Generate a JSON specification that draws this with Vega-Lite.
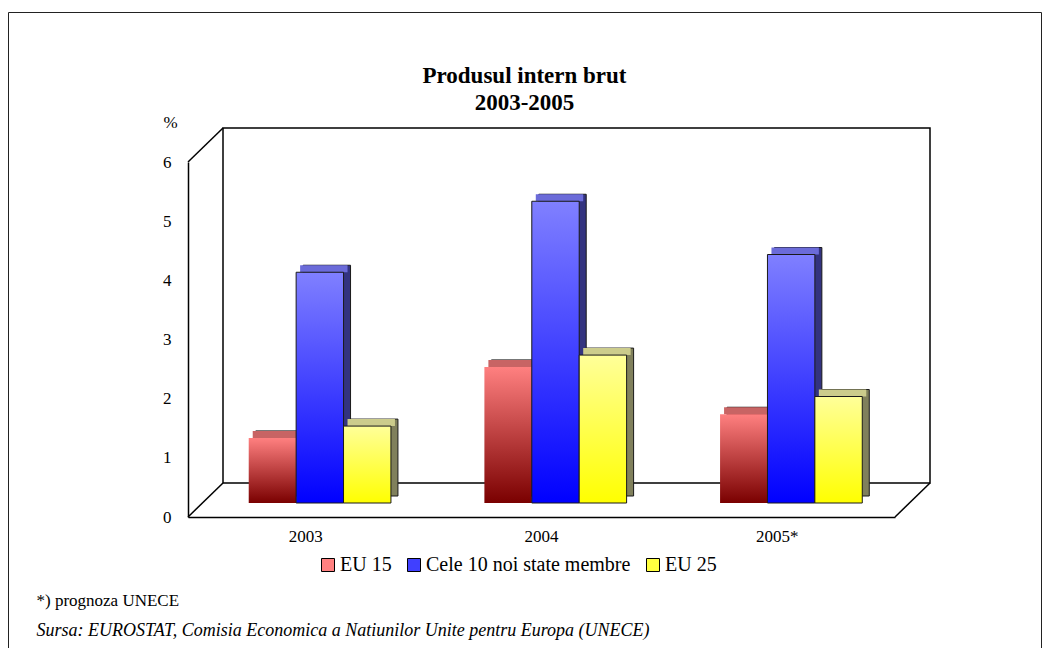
{
  "$schema": "https://vega.github.io/schema/vega-lite/v6.json",
  "width": 1033,
  "height": 648,
  "autosize": {"type": "none"},
  "padding": {"left": 8, "top": 12, "right": 9, "bottom": 0},
  "background": "white",
  "config": {
    "font": "Liberation Serif",
    "view": {"stroke": "#222222", "strokeWidth": 1},
    "axis": {"labelColor": "black", "titleColor": "black", "labelFont": "Liberation Serif", "titleFont": "Liberation Serif"}
  },
  "title": {
    "text": ["Produsul intern brut", "2003-2005"],
    "font": "Liberation Serif",
    "fontSize": 23,
    "fontWeight": "bold",
    "color": "black",
    "anchor": "middle",
    "lineHeight": 27,
    "offset": -103
  },
  "data": {
    "values": [
      {"year": "2003", "series": "EU 15", "value": 1.1},
      {"year": "2003", "series": "Cele 10 noi state membre", "value": 3.9},
      {"year": "2003", "series": "EU 25", "value": 1.3},
      {"year": "2004", "series": "EU 15", "value": 2.3},
      {"year": "2004", "series": "Cele 10 noi state membre", "value": 5.1},
      {"year": "2004", "series": "EU 25", "value": 2.5},
      {"year": "2005*", "series": "EU 15", "value": 1.5},
      {"year": "2005*", "series": "Cele 10 noi state membre", "value": 4.2},
      {"year": "2005*", "series": "EU 25", "value": 1.8}
    ]
  },
  "resolve": {"scale": {"x": "independent", "y": "independent"}, "axis": {"x": "independent", "y": "independent"}},
  "layer": [
    {
      "data": {"values": [{}]},
      "mark": {"type": "rect", "filled": false, "color": "black", "strokeWidth": 1.5, "xOffset": 35, "x2Offset": 35, "yOffset": -34, "y2Offset": -34},
      "encoding": {
        "x": {"datum": 0, "type": "quantitative", "scale": {"domain": [0, 1], "range": [180, 887], "nice": false, "zero": false},
          "axis": {"orient": "bottom", "offset": 0, "labels": false, "ticks": false, "domain": false, "grid": false,
            "title": "*) prognoza UNECE", "titleX": 28, "titleY": -60, "titleAlign": "left", "titleAnchor": "start", "titleBaseline": "middle",
            "titleFontSize": 17, "titleFontWeight": "normal"}},
        "x2": {"datum": 1},
        "y": {"datum": 0, "type": "quantitative", "scale": {"domain": [0, 6], "range": [505, 150], "nice": false, "zero": true},
          "axis": {"orient": "left", "offset": -180, "zindex": 1, "domain": true, "domainColor": "black", "domainWidth": 1.5, "ticks": false, "grid": false,
            "values": [0, 1, 2, 3, 4, 5, 6], "format": "d", "labelFontSize": 17, "labelPadding": 17,
            "title": "%", "titleAngle": 0, "titleX": -18, "titleY": 110, "titleAlign": "center", "titleBaseline": "middle", "titleFontSize": 17, "titleFontWeight": "normal"}},
        "y2": {"datum": 6}
      }
    },
    {
      "data": {"values": [{}]},
      "mark": {"type": "rule", "color": "black", "strokeWidth": 1.5, "x2Offset": 35, "y2Offset": -34},
      "encoding": {
        "x": {"datum": 0, "type": "quantitative", "scale": {"domain": [0, 1], "range": [180, 887], "nice": false, "zero": false},
          "axis": {"orient": "bottom", "offset": 0, "labels": false, "ticks": false, "domain": false, "grid": false,
            "title": "Sursa: EUROSTAT, Comisia Economica a Natiunilor Unite pentru Europa (UNECE)", "titleX": 28, "titleY": -30, "titleAlign": "left", "titleAnchor": "start", "titleBaseline": "middle",
            "titleFontSize": 18, "titleFontWeight": "normal", "titleFontStyle": "italic"}},
        "x2": {"datum": 0},
        "y": {"datum": 6, "type": "quantitative", "scale": {"domain": [0, 6], "range": [505, 150], "nice": false, "zero": true}, "axis": null},
        "y2": {"datum": 6}
      }
    },
    {
      "data": {"values": [{}]},
      "mark": {"type": "rule", "color": "black", "strokeWidth": 1.5, "x2Offset": 35, "y2Offset": -34},
      "encoding": {
        "x": {"datum": 0, "type": "quantitative", "scale": {"domain": [0, 1], "range": [180, 887], "nice": false, "zero": false}, "axis": null},
        "x2": {"datum": 0},
        "y": {"datum": 0, "type": "quantitative", "scale": {"domain": [0, 6], "range": [505, 150], "nice": false, "zero": true}, "axis": null},
        "y2": {"datum": 0}
      }
    },
    {
      "data": {"values": [{}]},
      "mark": {"type": "rule", "color": "black", "strokeWidth": 1.5, "x2Offset": 35, "y2Offset": -34},
      "encoding": {
        "x": {"datum": 1, "type": "quantitative", "scale": {"domain": [0, 1], "range": [180, 887], "nice": false, "zero": false}, "axis": null},
        "x2": {"datum": 1},
        "y": {"datum": 0, "type": "quantitative", "scale": {"domain": [0, 6], "range": [505, 150], "nice": false, "zero": true}, "axis": null},
        "y2": {"datum": 0}
      }
    },
    {
      "mark": {"type": "bar", "opacity": 0, "stroke": "black", "strokeWidth": 1},
      "encoding": {
        "x": {"field": "year", "type": "nominal", "sort": null, "scale": {"type": "band", "domain": ["2003", "2004", "2005*"], "range": [180, 887], "paddingInner": 0, "paddingOuter": 0}, "axis": null},
        "y": {"field": "value", "type": "quantitative", "stack": null, "scale": {"domain": [0, 6], "range": [505, 150], "nice": false, "zero": true}, "axis": null},
        "color": {"field": "series", "type": "nominal",
          "scale": {"domain": ["EU 15", "Cele 10 noi state membre", "EU 25"], "range": ["#ff8080", "#4040ff", "#ffff40"]},
          "legend": {"orient": "none", "legendX": 310, "legendY": 543, "direction": "horizontal", "title": null,
            "symbolType": "square", "symbolSize": 169, "symbolStrokeColor": "black", "symbolStrokeWidth": 1, "symbolOpacity": 1,
            "labelFontSize": 20, "labelFont": "Liberation Serif", "labelColor": "black", "labelLimit": 0, "columnPadding": 12, "labelOffset": 2}}
      }
    },
    {
      "transform": [{"filter": "datum.series === 'EU 15'"}],
      "mark": {"type": "bar", "width": {"band": 0.2012}, "xOffset": -26.4, "yOffset": -21, "y2Offset": -21, "color": "#802020", "stroke": "#1a1a1a", "strokeWidth": 1},
      "encoding": {
        "x": {"field": "year", "type": "nominal", "sort": null, "scale": {"type": "band", "domain": ["2003", "2004", "2005*"], "range": [180, 887], "paddingInner": 0, "paddingOuter": 0}, "axis": null},
        "y": {"field": "value", "type": "quantitative", "stack": null, "scale": {"domain": [0, 6], "range": [505, 150], "nice": false, "zero": true}, "axis": null},
        "y2": {"datum": 0}
      }
    },
    {
      "transform": [{"filter": "datum.series === 'EU 15'"}],
      "mark": {"type": "bar", "width": {"band": 0.2012}, "xOffset": -29.4, "yOffset": -21, "y2Offset": -14, "color": "#c86464"},
      "encoding": {
        "x": {"field": "year", "type": "nominal", "sort": null, "scale": {"type": "band", "domain": ["2003", "2004", "2005*"], "range": [180, 887], "paddingInner": 0, "paddingOuter": 0}, "axis": null},
        "y": {"field": "value", "type": "quantitative", "stack": null, "scale": {"domain": [0, 6], "range": [505, 150], "nice": false, "zero": true}, "axis": null},
        "y2": {"field": "value"}
      }
    },
    {
      "transform": [{"filter": "datum.series === 'EU 15'"}],
      "mark": {"type": "bar", "width": {"band": 0.2012}, "xOffset": -33.4, "yOffset": -14, "y2Offset": -14,
        "color": {"gradient": "linear", "x1": 0, "y1": 0, "x2": 0, "y2": 1, "stops": [{"offset": 0, "color": "#ff8080"}, {"offset": 1, "color": "#7a0000"}]}},
      "encoding": {
        "x": {"field": "year", "type": "nominal", "sort": null, "scale": {"type": "band", "domain": ["2003", "2004", "2005*"], "range": [180, 887], "paddingInner": 0, "paddingOuter": 0},
          "axis": {"orient": "bottom", "offset": -143, "domain": true, "domainColor": "black", "domainWidth": 1.5, "ticks": false, "grid": false, "labelAngle": 0, "labelFontSize": 17, "labelPadding": 11, "title": null}},
        "y": {"field": "value", "type": "quantitative", "stack": null, "scale": {"domain": [0, 6], "range": [505, 150], "nice": false, "zero": true}, "axis": null},
        "y2": {"datum": 0}
      }
    },
    {
      "transform": [{"filter": "datum.series === 'Cele 10 noi state membre'"}],
      "mark": {"type": "bar", "width": {"band": 0.2012}, "xOffset": 21, "yOffset": -21, "y2Offset": -21, "color": "#333380", "stroke": "#1a1a1a", "strokeWidth": 1},
      "encoding": {
        "x": {"field": "year", "type": "nominal", "sort": null, "scale": {"type": "band", "domain": ["2003", "2004", "2005*"], "range": [180, 887], "paddingInner": 0, "paddingOuter": 0}, "axis": null},
        "y": {"field": "value", "type": "quantitative", "stack": null, "scale": {"domain": [0, 6], "range": [505, 150], "nice": false, "zero": true}, "axis": null},
        "y2": {"datum": 0}
      }
    },
    {
      "transform": [{"filter": "datum.series === 'Cele 10 noi state membre'"}],
      "mark": {"type": "bar", "width": {"band": 0.2012}, "xOffset": 18, "yOffset": -21, "y2Offset": -14, "color": "#6b6bd9"},
      "encoding": {
        "x": {"field": "year", "type": "nominal", "sort": null, "scale": {"type": "band", "domain": ["2003", "2004", "2005*"], "range": [180, 887], "paddingInner": 0, "paddingOuter": 0}, "axis": null},
        "y": {"field": "value", "type": "quantitative", "stack": null, "scale": {"domain": [0, 6], "range": [505, 150], "nice": false, "zero": true}, "axis": null},
        "y2": {"field": "value"}
      }
    },
    {
      "transform": [{"filter": "datum.series === 'Cele 10 noi state membre'"}],
      "mark": {"type": "bar", "width": {"band": 0.2012}, "xOffset": 14, "yOffset": -14, "y2Offset": -14, "stroke": "#1a1a1a", "strokeWidth": 1,
        "color": {"gradient": "linear", "x1": 0, "y1": 0, "x2": 0, "y2": 1, "stops": [{"offset": 0, "color": "#8080ff"}, {"offset": 1, "color": "#0000ff"}]}},
      "encoding": {
        "x": {"field": "year", "type": "nominal", "sort": null, "scale": {"type": "band", "domain": ["2003", "2004", "2005*"], "range": [180, 887], "paddingInner": 0, "paddingOuter": 0}, "axis": null},
        "y": {"field": "value", "type": "quantitative", "stack": null, "scale": {"domain": [0, 6], "range": [505, 150], "nice": false, "zero": true}, "axis": null},
        "y2": {"datum": 0}
      }
    },
    {
      "transform": [{"filter": "datum.series === 'EU 25'"}],
      "mark": {"type": "bar", "width": {"band": 0.2012}, "xOffset": 68.4, "yOffset": -21, "y2Offset": -21, "color": "#80805c", "stroke": "#1a1a1a", "strokeWidth": 1},
      "encoding": {
        "x": {"field": "year", "type": "nominal", "sort": null, "scale": {"type": "band", "domain": ["2003", "2004", "2005*"], "range": [180, 887], "paddingInner": 0, "paddingOuter": 0}, "axis": null},
        "y": {"field": "value", "type": "quantitative", "stack": null, "scale": {"domain": [0, 6], "range": [505, 150], "nice": false, "zero": true}, "axis": null},
        "y2": {"datum": 0}
      }
    },
    {
      "transform": [{"filter": "datum.series === 'EU 25'"}],
      "mark": {"type": "bar", "width": {"band": 0.2012}, "xOffset": 65.4, "yOffset": -21, "y2Offset": -14, "color": "#cccc8c"},
      "encoding": {
        "x": {"field": "year", "type": "nominal", "sort": null, "scale": {"type": "band", "domain": ["2003", "2004", "2005*"], "range": [180, 887], "paddingInner": 0, "paddingOuter": 0}, "axis": null},
        "y": {"field": "value", "type": "quantitative", "stack": null, "scale": {"domain": [0, 6], "range": [505, 150], "nice": false, "zero": true}, "axis": null},
        "y2": {"field": "value"}
      }
    },
    {
      "transform": [{"filter": "datum.series === 'EU 25'"}],
      "mark": {"type": "bar", "width": {"band": 0.2012}, "xOffset": 61.4, "yOffset": -14, "y2Offset": -14, "stroke": "#1a1a1a", "strokeWidth": 1,
        "color": {"gradient": "linear", "x1": 0, "y1": 0, "x2": 0, "y2": 1, "stops": [{"offset": 0, "color": "#ffff99"}, {"offset": 1, "color": "#ffff00"}]}},
      "encoding": {
        "x": {"field": "year", "type": "nominal", "sort": null, "scale": {"type": "band", "domain": ["2003", "2004", "2005*"], "range": [180, 887], "paddingInner": 0, "paddingOuter": 0}, "axis": null},
        "y": {"field": "value", "type": "quantitative", "stack": null, "scale": {"domain": [0, 6], "range": [505, 150], "nice": false, "zero": true}, "axis": null},
        "y2": {"datum": 0}
      }
    }
  ]
}
